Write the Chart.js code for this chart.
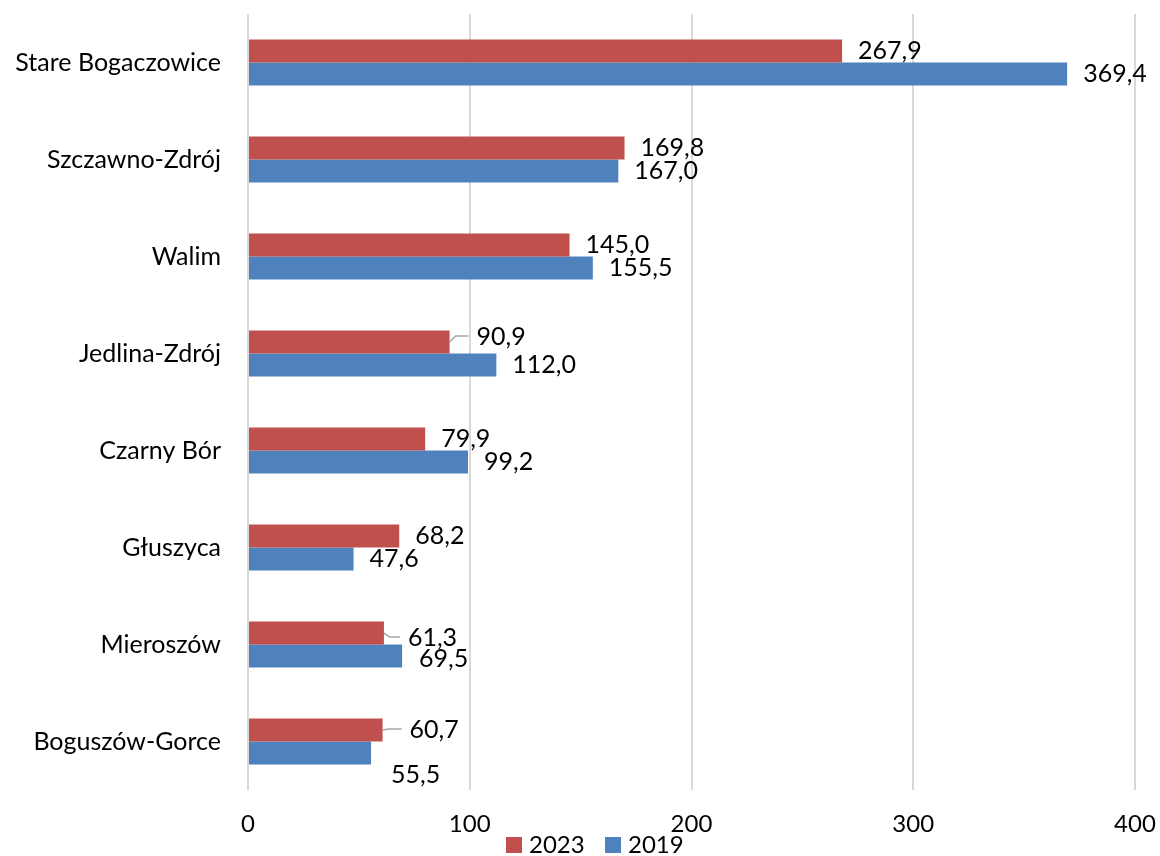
<!DOCTYPE html>
<html>
<head>
<meta charset="utf-8">
<script src="https://cdn.jsdelivr.net/npm/chart.js@4.4.1/dist/chart.umd.min.js"></script>
<style>
  html, body { margin: 0; padding: 0; background: #ffffff; }
  #wrap { width: 1160px; height: 856px; }
</style>
</head>
<body>
<div id="wrap"><canvas id="c" width="1160" height="856"></canvas></div>
<script>
const categories = ["Stare Bogaczowice", "Szczawno-Zdrój", "Walim", "Jedlina-Zdrój", "Czarny Bór", "Głuszyca", "Mieroszów", "Boguszów-Gorce"];
const values2023 = [267.9, 169.8, 145.0, 90.9, 79.9, 68.2, 61.3, 60.7];
const values2019 = [369.4, 167.0, 155.5, 112.0, 99.2, 47.6, 69.5, 55.5];
const seriesLabels = ["2023", "2019"];
const xTicks = [0, 100, 200, 300, 400];

const FONT = "Lato, 'Open Sans', sans-serif";
const FSIZE = 24;
const LSIZE = 25;
const RED = "#C0504D";
const BLUE = "#4F81BD";

// label placement tweaks (pixel nudges relative to default placement right of the bar end)
const labelTweaks = {
  "0-3": { dx: 27, dy: -5, leader: true },
  "0-6": { dx: 24, dy: 5, leader: true },
  "0-7": { dx: 27, dy: 0, leader: true },
  "1-6": { dx: 17, dy: 3 },
  "1-7": { dx: 20, dy: 22 }
};

const labelPlugin = {
  id: "barLabels",
  afterDatasetsDraw(chart) {
    const ctx = chart.ctx;
    ctx.save();
    ctx.font = LSIZE + "px " + FONT;
    ctx.fillStyle = "#000000";
    ctx.textAlign = "left";
    ctx.textBaseline = "middle";
    chart.data.datasets.forEach((ds, di) => {
      const meta = chart.getDatasetMeta(di);
      meta.data.forEach((bar, i) => {
        const t = labelTweaks[di + "-" + i] || { dx: 16, dy: 0 };
        const tx = bar.x + t.dx;
        const ty = bar.y + t.dy;
        if (t.leader) {
          ctx.save();
          ctx.strokeStyle = "#a6a6a6";
          ctx.lineWidth = 1.5;
          ctx.beginPath();
          ctx.moveTo(bar.x, bar.y);
          ctx.lineTo(bar.x + 6, ty - 1);
          ctx.lineTo(tx - 8, ty - 1);
          ctx.stroke();
          ctx.restore();
        }
        const txt = ds.data[i].toFixed(1).replace(".", ",");
        ctx.fillText(txt, tx, ty);
      });
    });
    ctx.restore();
  }
};

const legendPlugin = {
  id: "customLegend",
  afterDraw(chart) {
    const ctx = chart.ctx;
    ctx.save();
    ctx.font = FSIZE + "px " + FONT;
    ctx.textBaseline = "middle";
    ctx.textAlign = "left";
    const boxes = [506, 605];
    chart.data.datasets.forEach((ds, di) => {
      const x = boxes[di];
      ctx.fillStyle = ds.backgroundColor;
      ctx.fillRect(x, 837, 16, 16);
      ctx.fillStyle = "#000000";
      ctx.fillText(ds.label, x + 23, 845);
    });
    ctx.restore();
  }
};

new Chart(document.getElementById("c"), {
  type: "bar",
  data: {
    labels: categories,
    datasets: [
      { label: seriesLabels[0], data: values2023, backgroundColor: RED, borderWidth: 0 },
      { label: seriesLabels[1], data: values2019, backgroundColor: BLUE, borderWidth: 0 }
    ]
  },
  options: {
    indexAxis: "y",
    responsive: false,
    animation: false,
    devicePixelRatio: 1,
    layout: { padding: { top: 14, right: 25, left: 0, bottom: 0 } },
    datasets: { bar: { categoryPercentage: 0.474, barPercentage: 1.0 } },
    plugins: {
      legend: { display: false },
      tooltip: { enabled: false }
    },
    scales: {
      x: {
        min: 0,
        max: 400,
        afterBuildTicks(scale) { scale.ticks = xTicks.map(v => ({ value: v })); },
        grid: { color: "#d9d9d9", lineWidth: 2, drawTicks: false },
        border: { display: false },
        ticks: { color: "#000000", font: { family: FONT, size: FSIZE }, padding: 20, maxRotation: 0 },
        afterFit(scale) { scale.height = 66; scale.paddingLeft = 0; scale.paddingRight = 0; }
      },
      y: {
        grid: { display: false, drawTicks: false },
        border: { display: false },
        ticks: { color: "#000000", font: { family: FONT, size: LSIZE }, padding: 27 },
        afterFit(scale) { scale.width = 248; scale.paddingTop = 0; scale.paddingBottom = 0; }
      }
    }
  },
  plugins: [labelPlugin, legendPlugin]
});
</script>
</body>
</html>
